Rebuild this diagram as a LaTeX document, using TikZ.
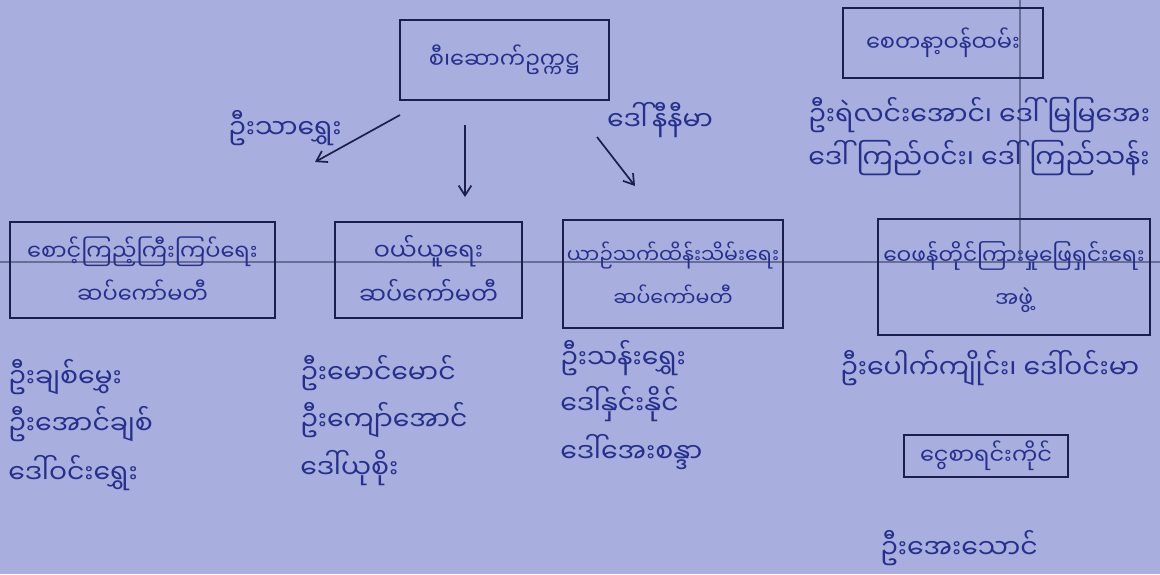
\documentclass[tikz,border=0pt]{standalone}
\usepackage{fontspec}
\usetikzlibrary{arrows.meta}
\newfontfamily\mya[Script=Myanmar]{Noto Sans Myanmar UI}
\definecolor{paper}{RGB}{168,174,222}
\definecolor{ink}{RGB}{38,48,140}
\definecolor{frame}{RGB}{28,30,75}
\definecolor{rule}{RGB}{105,110,150}

\begin{document}
\begin{tikzpicture}[
  x=0.025cm, y=-0.025cm,
  every node/.style={text=ink, font=\mya\fontsize{19}{30}\selectfont, inner sep=0pt},
  box/.style={draw=frame, line width=1.3pt, align=center, font=\mya\fontsize{16}{31}\selectfont},
  person/.style={anchor=west},
  arrow/.style={-{Straight Barb[length=7pt,width=9pt]}, draw=frame, line width=1.2pt}
]
\fill[paper] (0,0) rectangle (1160,574);
\useasboundingbox (0,0) rectangle (1160,574);
% ruled lines of the sheet
\draw[rule, line width=0.8pt] (0,262) -- (1160,262);
\draw[rule, line width=0.8pt] (1020,0) -- (1020,262);

\node[box, minimum width=5.23cm, minimum height=2cm] (chair) at (504.5,60) {စီ၊ဆောက်ဥက္ကဋ္ဌ};
\node[box, minimum width=5cm, minimum height=1.75cm] (volunteer) at (943,43) {စေတနာ့ဝန်ထမ်း};

\node[box, minimum width=6.63cm, minimum height=2.4cm] (watch) at (142.5,270) {စောင့်ကြည့်ကြီးကြပ်ရေး\\ဆပ်ကော်မတီ};
\node[box, minimum width=4.68cm, minimum height=2.4cm, font=\mya\fontsize{17}{31}\selectfont] (buy) at (428.5,270) {ဝယ်ယူရေး\\ဆပ်ကော်မတီ};
\node[box, minimum width=5.5cm, minimum height=2.7cm, font=\mya\fontsize{14.6}{31}\selectfont] (keep) at (673,274) {ယာဉ်သက်ထိန်းသိမ်းရေး\\ဆပ်ကော်မတီ};
\node[box, minimum width=6.8cm, minimum height=2.88cm, font=\mya\fontsize{15.5}{31}\selectfont] (complaint) at (1014,277) {ဝေဖန်တိုင်ကြားမှုဖြေရှင်းရေး\\အဖွဲ့};
\node[box, minimum width=4.1cm, minimum height=1.05cm] (cash) at (986,456) {ငွေစာရင်းကိုင်};

% arrows from the chair
\coordinate (l1) at (400,115);
\coordinate (l2) at (315,162);
\coordinate (m1) at (465,125);
\coordinate (m2) at (465,197);
\coordinate (r1) at (597,137);
\coordinate (r2) at (635,186);
\draw[arrow] (l1) -- (l2);
\draw[arrow] (m1) -- (m2);
\draw[arrow] (r1) -- (r2);
\node (lname) at (285,128) {ဦးသာရွှေး};
\node (rname) at (660,120) {ဒေါ်နီနီမာ};

\node[person] (v1) at (808,115) {ဦးရဲလင်းအောင်၊ ဒေါ်မြမြအေး};
\node[person] (v2) at (808,158) {ဒေါ်ကြည်ဝင်း၊ ဒေါ်ကြည်သန်း};

\node[person] (a1) at (8,377) {ဦးချစ်မွှေး};
\node[person] (a2) at (8,424) {ဦးအောင်ချစ်};
\node[person] (a3) at (8,473) {ဒေါ်ဝင်းရွှေး};

\node[person] (b1) at (300,373) {ဦးမောင်မောင်};
\node[person] (b2) at (300,420) {ဦးကျော်အောင်};
\node[person] (b3) at (300,468) {ဒေါ်ယုစိုး};

\node[person] (c1) at (560,358) {ဦးသန်းရွှေး};
\node[person] (c2) at (560,404) {ဒေါ်နှင်းနိုင်};
\node[person] (c3) at (560,452) {ဒေါ်အေးစန္ဒာ};

\node[person] (d1) at (840,368) {ဦးပေါက်ကျိုင်း၊ ဒေါ်ဝင်းမာ};
\node[person] (e1) at (880,548) {ဦးအေးသောင်};
\end{tikzpicture}
\end{document}
